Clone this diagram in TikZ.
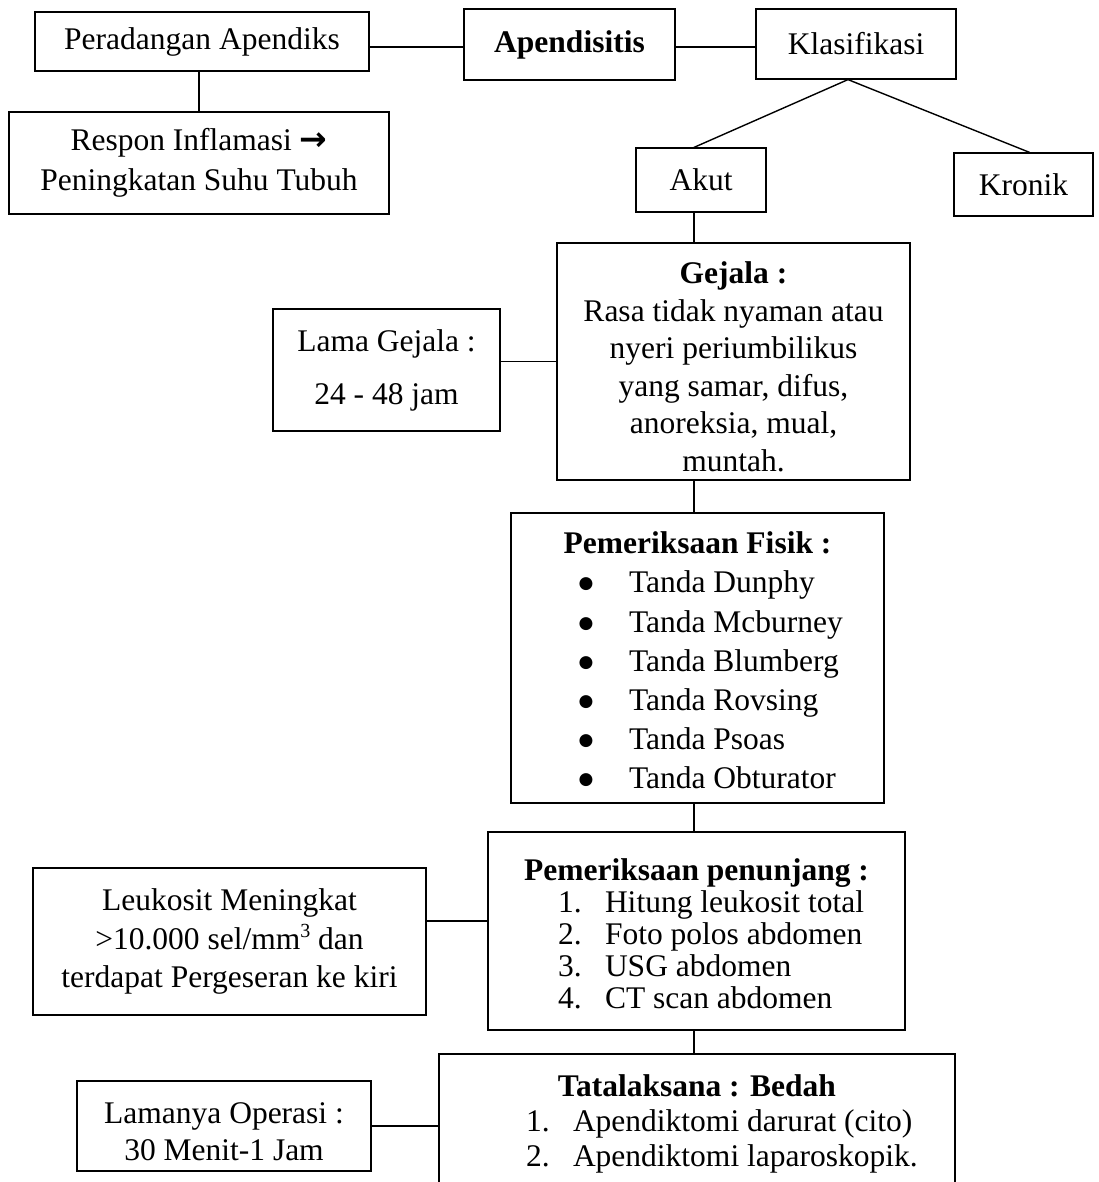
\documentclass[tikz,border=0pt]{standalone}
\usepackage{fontspec}
\setmainfont{Liberation Serif}
\newfontfamily\symfont{DejaVu Sans}
\newcommand\fbul[1]{\hspace*{75pt}\makebox[0pt]{\raisebox{4pt}{\symfont\fontsize{17}{17}\selectfont ●}}\hspace*{43pt}#1\par}
\newcommand\pitem[2]{\hspace*{70pt}\makebox[47pt][l]{#1}#2\par}
\newcommand\titem[2]{\hspace*{87pt}\makebox[47pt][l]{#1}#2\par}
\newcommand\supthree{\raisebox{12pt}{\fontsize{20}{20}\selectfont 3}}
\begin{document}
\begin{tikzpicture}[x=1pt,y=-1pt,
  box/.style={draw, line width=1.2pt, inner sep=0pt, align=center,
    font=\fontsize{31.5}{38}\selectfont},
  link/.style={line width=1.4pt}]
\useasboundingbox (0,0) rectangle (1098,1182);
\clip (0,0) rectangle (1098,1182);

\node[box, minimum width=334, minimum height=59] (pera) at (202,41.5) {Peradangan Apendiks};
\node[box, minimum width=211, minimum height=71] (apen) at (569.5,44.5) {\textbf{Apendisitis}};
\node[box, minimum width=200, minimum height=70] (klas) at (856,44) {Klasifikasi};
\node[box, minimum width=380, minimum height=102,
  font=\fontsize{31.5}{40}\selectfont] (resp) at (199,163)
  {Respon Inflamasi {\symfont\bfseries\fontsize{33}{33}\selectfont →}\\Peningkatan Suhu Tubuh};
\node[box, minimum width=130, minimum height=64] (akut) at (701,180) {Akut};
\node[box, minimum width=139, minimum height=63] (kron) at (1023.5,184.5) {Kronik};
\node[box, minimum width=353, minimum height=237,
  font=\fontsize{31.5}{37.5}\selectfont] (gejala) at (733.5,361.5)
  {\rule{0pt}{32pt}\textbf{Gejala :}\\Rasa tidak nyaman atau\\nyeri periumbilikus\\yang samar, difus,\\anoreksia, mual,\\muntah.};
\node[box, minimum width=227, minimum height=122] (lama) at (386.5,370)
  {Lama Gejala :\\[15pt]24 - 48 jam};
\node[box, minimum width=373, minimum height=290,
  font=\fontsize{31.5}{39.2}\selectfont] (fisik) at (697.5,658)
  {\begin{minipage}{373pt}
   {\centering\rule{0pt}{27pt}\textbf{Pemeriksaan Fisik :}\par}
   \fbul{Tanda Dunphy}
   \fbul{Tanda Mcburney}
   \fbul{Tanda Blumberg}
   \fbul{Tanda Rovsing}
   \fbul{Tanda Psoas}
   \fbul{Tanda Obturator}
   \end{minipage}};
\node[box, minimum width=417, minimum height=198,
  font=\fontsize{31.5}{32}\selectfont] (penunjang) at (696.5,931)
  {\begin{minipage}{417pt}
   {\centering\rule{0pt}{28pt}\textbf{Pemeriksaan penunjang :}\par}
   \pitem{1.}{Hitung leukosit total}
   \pitem{2.}{Foto polos abdomen}
   \pitem{3.}{USG abdomen}
   \pitem{4.}{CT scan abdomen}
   \end{minipage}};
\node[box, minimum width=393, minimum height=147,
  font=\fontsize{31.5}{38.5}\selectfont] (leuk) at (229.5,941.5)
  {Leukosit Meningkat\\>10.000 sel/mm\supthree\ dan\\terdapat Pergeseran ke kiri};
\node[box, minimum width=516, minimum height=132,
  font=\fontsize{31.5}{35}\selectfont] (tata) at (697,1120)
  {\begin{minipage}{516pt}
   {\centering\rule{0pt}{29pt}\textbf{Tatalaksana : Bedah}\par}
   \titem{1.}{Apendiktomi darurat (cito)}
   \titem{2.}{Apendiktomi laparoskopik.}
   \end{minipage}};
\node[box, minimum width=294, minimum height=90,
  font=\fontsize{31.5}{37}\selectfont] (lamanya) at (224,1126)
  {\rule{0pt}{32pt}Lamanya Operasi :\\30 Menit-1 Jam};

\coordinate (spine) at (694,0);
\coordinate (lvl1) at ([yshift=-2.5pt]apen.west);
\coordinate (lvl2) at ([yshift=10pt]penunjang.west);

\draw[link] (pera.east |- lvl1) -- (lvl1);
\draw[link] (apen.east |- lvl1) -- (klas.west |- lvl1);
\draw[link] (resp.north) -- (resp.north |- pera.south);
\draw[link] ([xshift=-8pt]klas.south) -- ([xshift=-7pt]akut.north);
\draw[link] ([xshift=-8pt]klas.south) -- ([xshift=6pt]kron.north);
\draw[link] (akut.south -| spine) -- (gejala.north -| spine);
\draw[link] (lama.east |- gejala.west) -- (gejala.west);
\draw[link] (gejala.south -| spine) -- (fisik.north -| spine);
\draw[link] (fisik.south -| spine) -- (penunjang.north -| spine);
\draw[link] (leuk.east |- lvl2) -- (lvl2);
\draw[link] (penunjang.south -| spine) -- (tata.north -| spine);
\draw[link] (lamanya.east) -- (tata.west |- lamanya.east);
\end{tikzpicture}
\end{document}
